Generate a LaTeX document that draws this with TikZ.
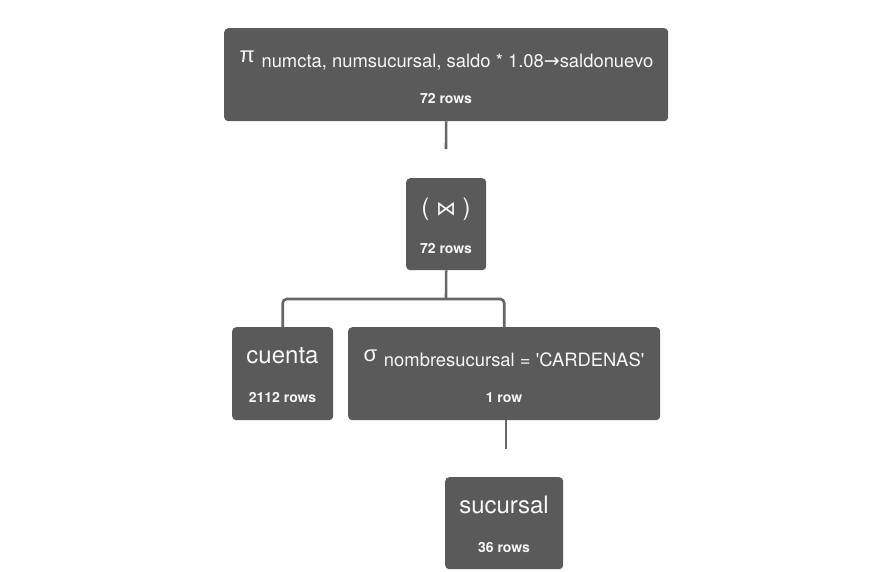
\documentclass[tikz,border=0pt]{standalone}
\usepackage{fontspec}
\setmainfont{TeX Gyre Heros}[Ligatures=TeXOff]
\newfontfamily\dejavu{DejaVu Sans}
\newfontfamily\libsans{Liberation Sans}
\definecolor{boxfill}{HTML}{5A5A5A}
\definecolor{linecol}{HTML}{666666}
\definecolor{txtcol}{HTML}{F7F7F7}
\newcommand{\subtxt}[1]{\raisebox{-5.5pt}{\fontsize{18.4}{20}\selectfont #1}}
\newcommand{\arr}{{\dejavu\fontsize{19}{20}\selectfont →}}
\begin{document}
\begin{tikzpicture}[x=1pt,y=-1pt,
  opbox/.style={draw=none, fill=boxfill, rounded corners=4pt, inner sep=0pt, anchor=north west},
  conn/.style={draw=linecol, line width=2.6pt},
  bigtxt/.style={text=txtcol, inner sep=0pt, anchor=base, font=\fontsize{24}{28}\selectfont},
  rowtxt/.style={text=txtcol, inner sep=0pt, anchor=base, font=\bfseries\fontsize{14}{16}\selectfont}]
\useasboundingbox (0,0) rectangle (893,571);
\fill[white] (0,0) rectangle (893,571);

% boxes
\node[opbox, minimum width=444pt, minimum height=93pt] (proj) at (224,28) {};
\node[opbox, minimum width=80pt, minimum height=92pt] (join) at (406,178) {};
\node[opbox, minimum width=101pt, minimum height=93pt] (cuenta) at (232,327) {};
\node[opbox, minimum width=312pt, minimum height=93pt] (sigma) at (348,327) {};
\node[opbox, minimum width=118pt, minimum height=92pt] (sucursal) at (445,477) {};

% texts
\node[bigtxt] (projt) at (446.5,62) {{\libsans\fontsize{22}{24}\selectfont π} \subtxt{numcta, numsucursal, saldo * 1.08\arr saldonuevo}};
\node[rowtxt] (projr) at (446,103) {72 rows};
\node[bigtxt] (joint) at (446,215) {( {\dejavu\fontsize{20}{22}\selectfont ⋈} )};
\node[rowtxt] (joinr) at (446,253) {72 rows};
\node[bigtxt] (cuentat) at (282.5,363) {cuenta};
\node[rowtxt] (cuentar) at (282.5,402.5) {2112 rows};
\node[bigtxt] (sigmat) at (504,361) {{\libsans\fontsize{22}{24}\selectfont σ} \subtxt{nombresucursal = 'CARDENAS'}};
\node[rowtxt] (sigmar) at (504,402.5) {1 row};
\node[bigtxt] (sucursalt) at (504,513) {sucursal};
\node[rowtxt] (sucursalr) at (504,552.5) {36 rows};

% connectors
\coordinate (pe) at (446,149);
\draw[conn] (proj.south) -- (pe);
\coordinate (jm) at (446,299);
\draw[conn] (join.south) -- (jm);
\draw[conn, rounded corners=4pt] (cuenta.north) |- (jm) -| (sigma.north);
\coordinate (se) at (506,449);
\draw[conn] (sigma.south -| se) -- (se);
\end{tikzpicture}
\end{document}
